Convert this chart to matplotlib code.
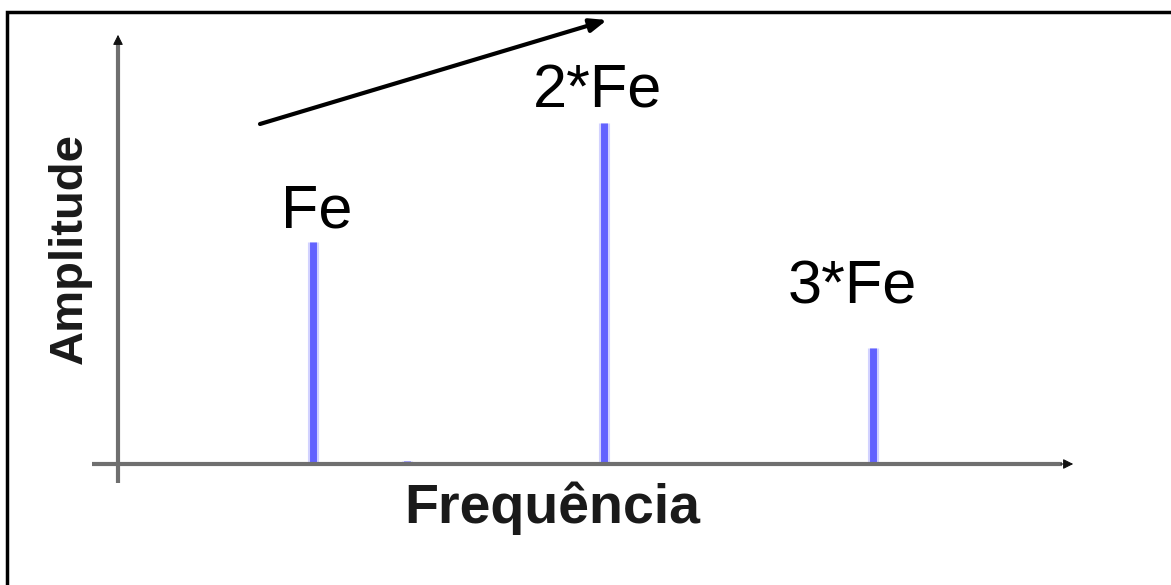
import matplotlib
matplotlib.use("Agg")
from matplotlib import pyplot as plt
from matplotlib.patches import Rectangle

plt.rcParams['font.family'] = ['Liberation Sans', 'DejaVu Sans']

# spectrum: harmonic positions and amplitudes (2*Fe normalised to 1)
freqs = [1.0, 1.48, 2.49, 3.87]
amps = [0.65, 0.01, 1.0, 0.34]
labels = ['Fe', '', '2*Fe', '3*Fe']
# label offsets from the top of each spike, in points
label_dx = [3, 0, -4, -15]
label_dy = [11, 0, 11, 32]

W, H = 1171, 585
fig = plt.figure(figsize=(W / 100, H / 100), dpi=100)
ax = fig.add_axes([0, 0, 1, 1])
ax.set_axis_off()

# axis origin sits at pixel (118, 464); one x unit = 195 px, one y unit = 341 px
ox, oy, sx, sy = 118, 464, 195, 341
ax.set_xlim(-ox / sx, (W - ox) / sx)
ax.set_ylim(-(H - oy) / sy, oy / sy)

# spikes with a soft halo
ax.vlines(freqs, 0, amps, color='#d2d2ff', lw=8, zorder=2)
ax.vlines(freqs, 0, amps, color='#6262ff', lw=5, zorder=3)

for f, a, lab, dx, dy in zip(freqs, amps, labels, label_dx, label_dy):
    if lab:
        ax.annotate(lab, (f, a), xytext=(dx, dy), textcoords='offset points',
                    ha='center', va='baseline', fontsize=44, color='black')

# axes drawn as grey lines with small arrow heads
x_end = (1062 - ox) / sx
y_end = (oy - 42) / sy
ax.plot([-(ox - 92) / sx, x_end], [0, 0], color='#6f6f6f', lw=3, zorder=4,
        solid_capstyle='butt')
ax.plot([0, 0], [-(483 - oy) / sy, y_end], color='#6f6f6f', lw=3, zorder=4,
        solid_capstyle='butt')
ax.annotate('', xy=(x_end + 14 / sx, 0), xytext=(x_end - 4 / sx, 0),
            arrowprops=dict(arrowstyle='-|>,head_length=0.6,head_width=0.3',
                            color='#111111', lw=0.8), zorder=5)
ax.annotate('', xy=(0, y_end + 10 / sy), xytext=(0, y_end - 4 / sy),
            arrowprops=dict(arrowstyle='-|>,head_length=0.6,head_width=0.3',
                            color='#111111', lw=0.8), zorder=5)

ax.text(552 / W, 1 - 508 / H, 'Frequência', transform=fig.transFigure,
        ha='center', va='center', fontsize=40, fontweight='bold', color='#1a1a1a')
ax.text(70 / W, 1 - 248 / H, 'Amplitude', transform=fig.transFigure, rotation=90,
        ha='center', va='center', fontsize=34, fontweight='bold', color='#1a1a1a')

# rising trend arrow
ax.annotate('', xy=(607 / W, 1 - 20 / H), xytext=(260 / W, 1 - 124 / H),
            xycoords='figure fraction', textcoords='figure fraction',
            arrowprops=dict(arrowstyle='-|>,head_length=1.0,head_width=0.4',
                            color='black', lw=3, shrinkA=0, shrinkB=0))

# frame
fig.patches.append(Rectangle((7 / W, -0.1), 1.2, 1 - 12 / H + 0.1,
                             transform=fig.transFigure, fill=False,
                             edgecolor='black', lw=2.5))

fig.savefig('out.png', dpi=100, facecolor='white')
